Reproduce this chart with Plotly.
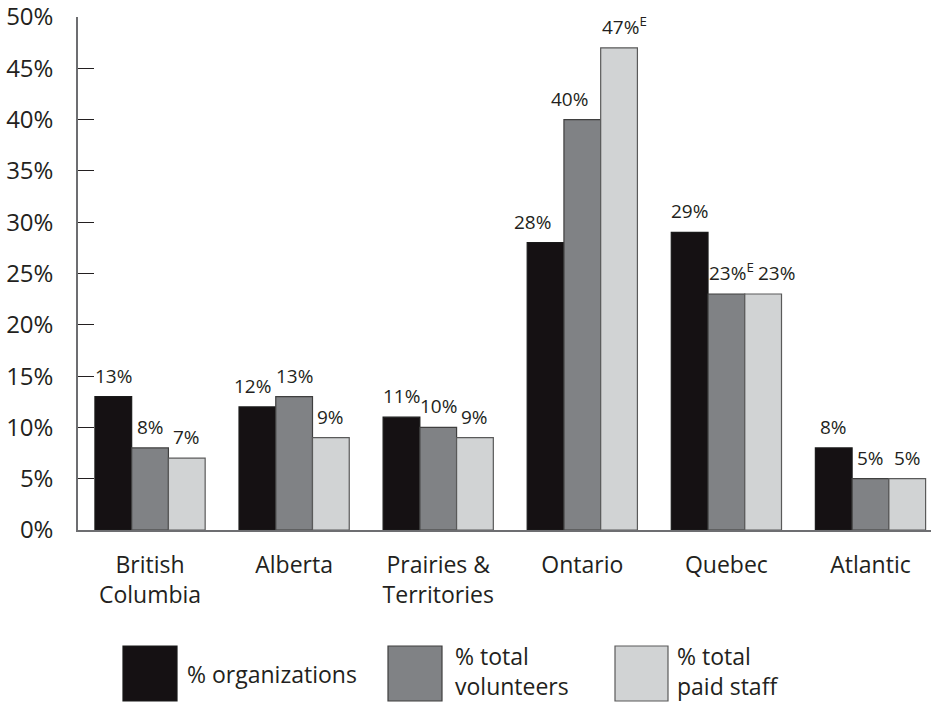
import plotly.graph_objects as go

# Regional distribution (%), grouped by series
regions = ["British<br>Columbia", "Alberta", "Prairies &<br>Territories", "Ontario", "Quebec", "Atlantic"]
series_names = ["% organizations", "% total<br>volunteers", "% total<br>paid staff"]
pct_organizations = [13, 12, 11, 28, 29, 8]
pct_volunteers = [8, 13, 10, 40, 23, 5]
pct_paid_staff = [7, 9, 9, 47, 23, 5]
# estimates flagged "E" (use with caution)
flag_volunteers = ["", "", "", "", "E", ""]
flag_paid_staff = ["", "", "", "E", "", ""]
flag_organizations = ["", "", "", "", "", ""]
y_ticks = [0, 5, 10, 15, 20, 25, 30, 35, 40, 45, 50]

series_values = [pct_organizations, pct_volunteers, pct_paid_staff]
series_flags = [flag_organizations, flag_volunteers, flag_paid_staff]
colors = ["#151113", "#808285", "#d1d3d4"]
outline = ["#1a1a1a", "#3f3f3f", "#5a5a5a"]

FONT = "Open Sans"
TXT = "#231f20"

W, H = 931, 702
ML, MR, MT, MB = 78, 0, 17, 172
PW, PH = W - ML - MR, H - MT - MB

BARGAP = 0.235
bar_w = (1 - BARGAP) / 3

# small horizontal nudges (px) for a few crowded value labels: (category, series) -> shift
label_nudge = {(1, 0): -5, (3, 0): -13, (3, 1): -13, (4, 2): 13}

fig = go.Figure()
for k, (vals, name) in enumerate(zip(series_values, series_names)):
    fig.add_trace(go.Bar(
        x=list(range(len(regions))), y=vals, name=name,
        marker=dict(color=colors[k], line=dict(color=outline[k], width=1.2)),
        showlegend=False, hoverinfo="skip",
    ))

annotations = []
for k, (vals, flags) in enumerate(zip(series_values, series_flags)):
    for i, (v, f) in enumerate(zip(vals, flags)):
        txt = f"{v}%" + (f"<sup>{f}</sup>" if f else "")
        xs = label_nudge.get((i, k), 0) + (5 if f else 0)
        annotations.append(dict(
            x=i + (k - 1) * bar_w, y=v, xref="x", yref="y",
            text=txt, showarrow=False, xanchor="center", yanchor="bottom",
            yshift=6, xshift=xs,
            font=dict(family=FONT, size=19, color=TXT),
        ))

# custom legend with large swatches below the plot
def px_x(p):
    return (p - ML) / PW

def px_y(p):
    return (H - MB - p) / PH

legend_items = [(123, 177, 185), (388, 442, 453), (615, 668, 675)]
shapes = []
for k, (x0, x1, tx) in enumerate(legend_items):
    shapes.append(dict(
        type="rect", xref="paper", yref="paper",
        x0=px_x(x0), x1=px_x(x1), y0=px_y(701), y1=px_y(646),
        fillcolor=colors[k], line=dict(color=outline[k], width=1.2),
    ))
    two_lines = "<br>" in series_names[k]
    annotations.append(dict(
        x=px_x(tx), y=px_y(671 if two_lines else 674), xref="paper", yref="paper",
        text=series_names[k], showarrow=False, xanchor="left", yanchor="middle",
        align="left", font=dict(family=FONT, size=23, color=TXT),
    ))

fig.update_layout(
    width=W, height=H,
    margin=dict(l=ML, r=MR, t=MT, b=MB, pad=0),
    paper_bgcolor="white", plot_bgcolor="white",
    barmode="group", bargap=BARGAP, bargroupgap=0,
    font=dict(family=FONT, color=TXT),
    annotations=annotations, shapes=shapes,
    xaxis=dict(
        tickmode="array", tickvals=list(range(len(regions))), ticktext=regions,
        range=[-0.5, len(regions) - 0.58],
        showgrid=False, zeroline=False,
        showline=True, linecolor="#6d6e71", linewidth=1.5,
        ticks="", tickfont=dict(family=FONT, size=23, color=TXT),
        ticklabelstandoff=14,
    ),
    yaxis=dict(
        range=[0, 50], tickvals=y_ticks, ticktext=[f"{t}%" for t in y_ticks],
        showgrid=False, zeroline=False,
        showline=True, linecolor="#6d6e71", linewidth=1.5,
        ticks="inside", ticklen=16, tickwidth=1.2, tickcolor="#231f20",
        tickfont=dict(family=FONT, size=24, color=TXT),
        ticklabelstandoff=18, ticklabeloverflow="allow",
    ),
)

fig.write_html("out.html")
